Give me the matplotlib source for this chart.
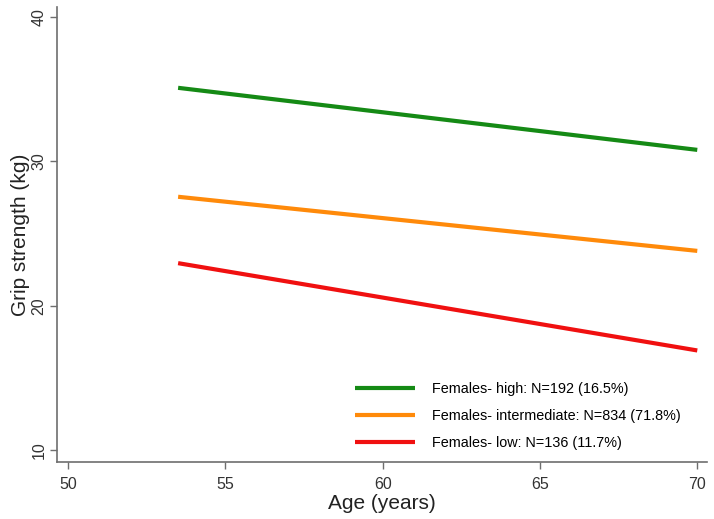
import matplotlib
matplotlib.use("Agg")
import matplotlib.pyplot as plt

plt.rcParams['font.family'] = ['Liberation Sans', 'DejaVu Sans']

# --- data ---
age = [53.5, 70]
grip_high = [35.1, 30.8]
grip_mid = [27.55, 23.8]
grip_low = [22.95, 16.9]
labels = ["Females- high: N=192 (16.5%)",
          "Females- intermediate: N=834 (71.8%)",
          "Females- low: N=136 (11.7%)"]
colors = ["#158a15", "#ff8a0a", "#f01010"]
xticks = [50, 55, 60, 65, 70]
yticks = [10, 20, 30, 40]

fig = plt.figure(figsize=(7.14, 5.19), dpi=100)
ax = fig.add_axes([0.0798, 0.1098, 0.910, 0.8767])

for ys, lab, c in zip([grip_high, grip_mid, grip_low], labels, colors):
    ax.plot(age, ys, color=c, lw=3, label=lab, solid_capstyle='butt')

ax.set_xlim(49.65, 70.3)
ax.set_ylim(9.17, 40.7)
ax.set_xticks(xticks)
ax.set_yticks(yticks)
for lab in ax.get_yticklabels():
    lab.set_rotation(90)
    lab.set_va('center')

spine_col = '#6e6e6e'
for s in ['top', 'right']:
    ax.spines[s].set_visible(False)
for s in ['left', 'bottom']:
    ax.spines[s].set_color(spine_col)
    ax.spines[s].set_linewidth(1.2)
ax.tick_params(colors=spine_col, labelcolor='#333333', labelsize=11.5, length=5, width=1.0)
ax.tick_params(axis='x', pad=6)
ax.tick_params(axis='y', pad=2.5)

ax.set_xlabel("Age (years)", fontsize=15, color='#222222', labelpad=1)
ax.set_ylabel("Grip strength (kg)", fontsize=15, color='#222222', labelpad=1)

ax.legend(loc='lower left', bbox_to_anchor=(0.458, 0.027), frameon=False,
          borderpad=0, borderaxespad=0,
          fontsize=10.4, handlelength=4.15, handletextpad=1.2, labelspacing=0.9)

fig.savefig("out.png", dpi=100)
